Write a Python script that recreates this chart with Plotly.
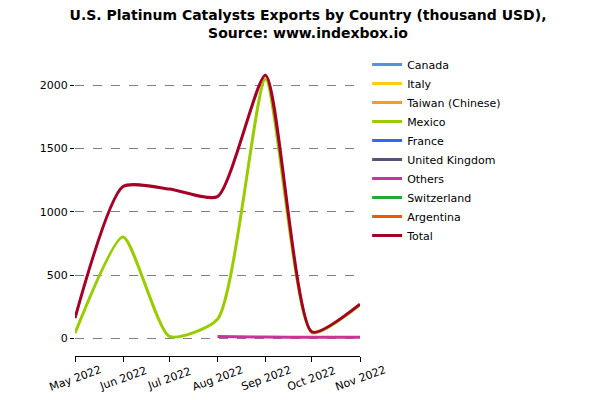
import plotly.graph_objects as go

months = ['2022-05-01', '2022-06-01', '2022-07-01', '2022-08-01',
          '2022-09-01', '2022-10-01', '2022-11-01']
month_labels = ['May 2022', 'Jun 2022', 'Jul 2022', 'Aug 2022',
                'Sep 2022', 'Oct 2022', 'Nov 2022']

canada = [None] * 7
italy = [None] * 7
taiwan = [None] * 7
mexico = [40, 800, 15, 150, 2050, 45, 265]
france = [None] * 7
united_kingdom = [None] * 7
others = [None, None, None, 15, 10, 8, 8]
switzerland = [None] * 7
argentina = [None] * 7
total = [160, 1200, 1180, 1120, 2080, 50, 270]

series = [
    ('Canada', canada, '#5b8fdc'),
    ('Italy', italy, '#ffcc11'),
    ('Taiwan (Chinese)', taiwan, '#ff9922'),
    ('Mexico', mexico, '#99cc00'),
    ('France', france, '#3366ff'),
    ('United Kingdom', united_kingdom, '#5c4f7a'),
    ('Others', others, '#cc3399'),
    ('Switzerland', switzerland, '#22aa33'),
    ('Argentina', argentina, '#e65c00'),
    ('Total', total, '#a50026'),
]

fig = go.Figure()
for name, vals, color in series:
    fig.add_trace(go.Scatter(x=months, y=vals, mode='lines', name=name,
                             line=dict(color=color, width=3, shape='spline',
                                       smoothing=0.6)))

# rotated month labels centred under each tick
for m, lab in zip(months, month_labels):
    fig.add_annotation(x=m, xref='x', y=0, yref='paper', text=lab,
                       textangle=-20, showarrow=False, xanchor='center',
                       yanchor='middle', yshift=-22,
                       font=dict(size=11, color='black'))

# page body has an 8px margin, so the figure is placed 8px lower/right
fig.update_layout(
    width=600, height=400,
    paper_bgcolor='white', plot_bgcolor='white',
    font=dict(family='DejaVu Sans', size=11, color='black'),
    title=dict(text='<b>U.S. Platinum Catalysts Exports by Country (thousand USD),<br>Source: www.indexbox.io</b>',
               x=0.5, xanchor='center', y=0.97, yanchor='top',
               font=dict(size=14)),
    margin=dict(l=67, r=248, t=52, b=52),
    legend=dict(x=1.025, y=1.034, xanchor='left', yanchor='top',
                font=dict(size=11), tracegroupgap=0),
    showlegend=True,
)
fig.update_xaxes(range=['2022-05-01', '2022-11-01'], tickvals=months,
                 showticklabels=False, automargin=False,
                 showline=True, linecolor='black',
                 ticks='outside', ticklen=5, tickcolor='black',
                 showgrid=False, zeroline=False)
fig.update_yaxes(range=[-140, 2200], tickvals=[0, 500, 1000, 1500, 2000],
                 automargin=False,
                 showgrid=True, gridcolor='gray', griddash='dash', gridwidth=1,
                 zeroline=False, showline=False,
                 ticks='outside', ticklen=4, tickcolor='black')

fig.write_html("out.html")
